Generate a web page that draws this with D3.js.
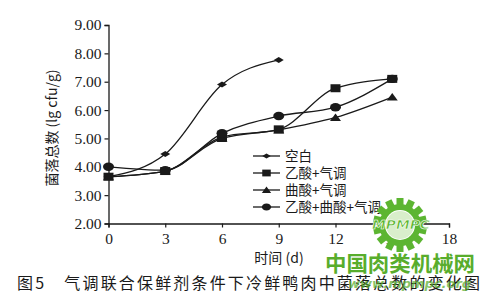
<!DOCTYPE html>
<html><head><meta charset="utf-8">
<script src="https://cdn.jsdelivr.net/npm/d3@7"></script>
<style>body{margin:0;background:#fff}svg{display:block}</style>
</head><body>
<svg id="c" width="500" height="304"></svg>
<script>
const days = [0, 3, 6, 9, 12, 15];
const seriesNames = ["空白", "乙酸+气调", "曲酸+气调", "乙酸+曲酸+气调"];
const blank = [3.65, 4.45, 6.9, 7.77, null, null];
const aceticMAP = [3.65, 3.85, 5.05, 5.32, 6.77, 7.1];
const kojicMAP = [3.65, 3.85, 5.0, 5.3, 5.74, 6.46];
const aceticKojicMAP = [4.0, 3.88, 5.18, 5.79, 6.1, 7.1];
const markers = ["diamond", "square", "triangle", "circle"];
const yTicks = [2, 3, 4, 5, 6, 7, 8, 9];
const xTicks = [0, 3, 6, 9, 12, 15, 18];
const allSeries = [blank, aceticMAP, kojicMAP, aceticKojicMAP];

const svg = d3.select("#c");
const x = d3.scaleLinear().domain([0, 18]).range([108.5, 449]);
const y = d3.scaleLinear().domain([2, 9]).range([223.5, 25]);
const ink = "#1a1a1a";
const serif = "'Liberation Serif','DejaVu Serif',serif";
const cjk = "'Noto Sans CJK SC',sans-serif";

// axes
const yAxis = svg.append("g").attr("transform", `translate(${x(0)},0)`)
  .call(d3.axisLeft(y).tickValues(yTicks).tickFormat(d3.format(".2f")).tickSize(4).tickPadding(3));
const xAxis = svg.append("g").attr("transform", `translate(0,${y(2)})`)
  .call(d3.axisBottom(x).tickValues(xTicks).tickFormat(d3.format("d")).tickSize(4).tickPadding(5));
[yAxis, xAxis].forEach(g => {
  g.select(".domain").attr("stroke", ink).attr("stroke-width", 1.3);
  g.selectAll(".tick line").attr("stroke", ink).attr("stroke-width", 1.2);
  g.selectAll("text").attr("font-family", serif).attr("font-size", 15.5).attr("fill", ink);
});

// lines
const line = d3.line().defined(d => d.v != null).x(d => x(d.t)).y(d => y(d.v)).curve(d3.curveMonotoneX);
function marker(g, type, cx, cy, s) {
  s = s || 1;
  if (type === "diamond") g.append("path").attr("d", `M${cx-5*s},${cy}L${cx},${cy-3*s}L${cx+5*s},${cy}L${cx},${cy+3*s}Z`).attr("fill", ink);
  else if (type === "square") g.append("rect").attr("x", cx-5*s).attr("y", cy-4*s).attr("width", 10*s).attr("height", 8*s).attr("fill", ink);
  else if (type === "triangle") g.append("path").attr("d", `M${cx-5.5*s},${cy+3.5*s}L${cx},${cy-4*s}L${cx+5.5*s},${cy+3.5*s}Z`).attr("fill", ink);
  else g.append("ellipse").attr("cx", cx).attr("cy", cy).attr("rx", 5.5*s).attr("ry", 4.2*s).attr("fill", ink);
}
allSeries.forEach((vals, i) => {
  const pts = days.map((t, j) => ({t, v: vals[j]}));
  const g = svg.append("g");
  g.append("path").datum(pts).attr("d", line).attr("fill", "none").attr("stroke", ink).attr("stroke-width", 1.3);
  pts.filter(p => p.v != null).forEach(p => marker(g, markers[i], x(p.t), y(p.v)));
});

// legend
const lg = svg.append("g");
const rowsY = [156, 173, 190, 207];
seriesNames.forEach((n, i) => {
  lg.append("line").attr("x1", 253).attr("x2", 280).attr("y1", rowsY[i]).attr("y2", rowsY[i]).attr("stroke", ink).attr("stroke-width", 1.3);
  marker(lg, markers[i], 266.5, rowsY[i], 0.85);
  lg.append("text").attr("x", 285).attr("y", rowsY[i] + 5).attr("font-family", cjk).attr("font-size", 13.5).attr("fill", ink).text(n);
});

// axis titles
svg.append("text").attr("transform", "translate(57,128) rotate(-90)").attr("text-anchor", "middle")
  .attr("font-family", cjk).attr("font-size", 14).attr("fill", ink).text("菌落总数 (lg cfu/g)");
svg.append("text").attr("x", 279).attr("y", 263).attr("text-anchor", "middle")
  .attr("font-family", cjk).attr("font-size", 14).attr("fill", ink).text("时间 (d)");

// caption
svg.append("text").attr("x", 17).attr("y", 289).attr("font-family", cjk).attr("font-size", 16).attr("fill", ink)
  .attr("textLength", 463).attr("lengthAdjust", "spacing").text("图5　气调联合保鲜剂条件下冷鲜鸭肉中菌落总数的变化图");

// watermark logo (gear)
const green = "#5cb531";
const wm = svg.append("g").attr("transform", "translate(400,225)");
d3.range(14).forEach(k => {
  wm.append("rect").attr("x", -3.5).attr("y", -27).attr("width", 7).attr("height", 8).attr("fill", green)
    .attr("transform", `rotate(${k * 360 / 14})`);
});
wm.append("circle").attr("r", 21).attr("fill", green);
wm.append("circle").attr("r", 15).attr("fill", "#fff");
wm.append("circle").attr("r", 14).attr("fill", "#d9eecb");
wm.append("text").attr("x", 1).attr("y", 4).attr("text-anchor", "middle").attr("font-family", "'DejaVu Sans',sans-serif")
  .attr("font-style", "italic").attr("font-weight", "bold").attr("font-size", 13).attr("fill", green)
  .attr("stroke", "#fff").attr("stroke-width", 0.6).attr("textLength", 58).attr("lengthAdjust", "spacingAndGlyphs").text("MPMPC");
const wm2 = svg.append("g");
wm2.append("text").attr("x", 325).attr("y", 271).attr("font-family", cjk).attr("font-weight", "bold").attr("font-size", 21).attr("fill", "#58ad2c")
  .attr("textLength", 150).attr("lengthAdjust", "spacingAndGlyphs").text("中国肉类机械网");
wm2.append("text").attr("x", 348).attr("y", 288).attr("font-family", "'DejaVu Sans',sans-serif").attr("font-style", "italic").attr("font-weight", "bold").attr("font-size", 13).attr("fill", "#58ad2c").attr("opacity", 0.7).text("www.mpmpc.org");
</script>
</body></html>
